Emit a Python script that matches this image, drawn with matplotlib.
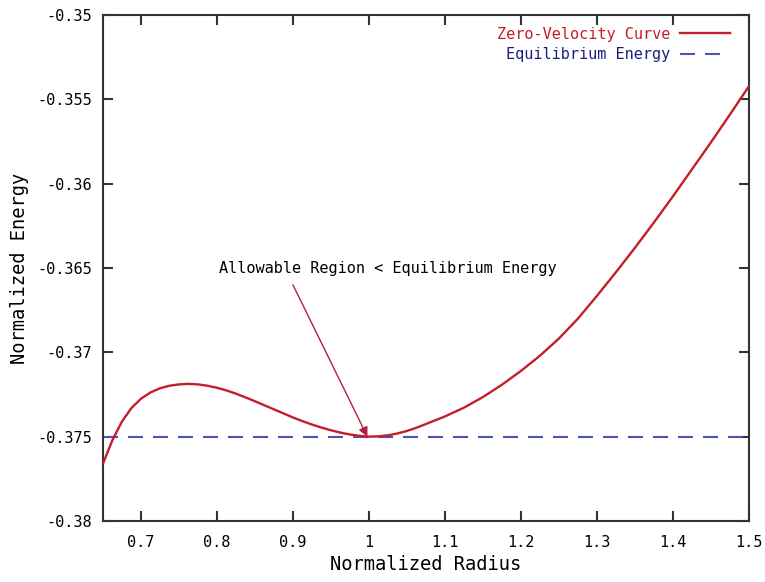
#!/usr/bin/env python3
"""Zero-velocity curve vs. equilibrium energy (gnuplot-style figure)."""

import matplotlib
matplotlib.use("Agg")
import matplotlib.pyplot as plt


# values
RADIUS = [0.650, 0.6625, 0.675, 0.6875, 0.700, 0.7125, 0.725, 0.7375,
          0.750, 0.7625, 0.775, 0.7875, 0.800, 0.8125, 0.825, 0.8375,
          0.850, 0.8625, 0.875, 0.8875, 0.900, 0.9125, 0.925, 0.9375,
          0.950, 0.9625, 0.975, 0.9875, 1.000, 1.0125, 1.025, 1.0375,
          1.050, 1.0625, 1.075, 1.100, 1.125, 1.150, 1.175, 1.200,
          1.225, 1.250, 1.275, 1.300, 1.325, 1.350, 1.375, 1.400,
          1.425, 1.450, 1.475, 1.500]
ENERGY = [-0.3766, -0.3752, -0.3741, -0.3733, -0.37275, -0.37238, -0.37213,
          -0.37198, -0.3719, -0.37187, -0.3719, -0.37198, -0.3721, -0.37226,
          -0.37245, -0.37267, -0.3729, -0.37314, -0.37338, -0.37362, -0.37386,
          -0.37408, -0.37428, -0.37446, -0.37462, -0.37476, -0.37487, -0.37495,
          -0.3750, -0.37498, -0.37492, -0.37481, -0.37466, -0.37447, -0.37425,
          -0.3738, -0.37328, -0.37265, -0.37192, -0.3711, -0.3702, -0.36918,
          -0.36800, -0.36665, -0.36525, -0.3638, -0.3623, -0.36075, -0.35915,
          -0.35755, -0.3559, -0.35422]
EQUILIBRIUM = -0.375

X_TICKS = [0.7, 0.8, 0.9, 1.0, 1.1, 1.2, 1.3, 1.4, 1.5]
X_LABELS = ["0.7", "0.8", "0.9", "1", "1.1", "1.2", "1.3", "1.4", "1.5"]
Y_TICKS = [-0.38, -0.375, -0.37, -0.365, -0.36, -0.355, -0.35]
Y_LABELS = ["-0.38", "-0.375", "-0.37", "-0.365", "-0.36", "-0.355", "-0.35"]

RED = "#c41e2a"
BLUE = "#4b56b4"
NAVY = "#1c1c80"


def main():
    plt.rcParams.update({
        "font.family": "DejaVu Sans Mono",
        "font.size": 11,
        "axes.linewidth": 1.5,
        "axes.edgecolor": "#333333",
    })

    fig = plt.figure(figsize=(7.65, 5.82), dpi=100)
    ax = fig.add_axes([0.1346, 0.1048, 0.979 - 0.1346, 0.9742 - 0.1048])

    ax.plot(RADIUS, ENERGY, color=RED, lw=1.7, label="Zero-Velocity Curve",
            zorder=3, solid_joinstyle="round")
    ax.axhline(EQUILIBRIUM, color=BLUE, lw=1.5, dashes=(7.2, 4.8),
               label="Equilibrium Energy", zorder=2)

    ax.set_xlim(0.65, 1.5)
    ax.set_ylim(-0.38, -0.35)
    ax.set_xticks(X_TICKS, X_LABELS)
    ax.set_yticks(Y_TICKS, Y_LABELS)
    ax.tick_params(direction="in", length=7, width=1.5, color="#333333",
                   top=True, right=True, labelsize=11)
    ax.tick_params(axis="x", pad=10)
    ax.tick_params(axis="y", pad=8)

    ax.set_xlabel("Normalized Radius", fontsize=13.5, labelpad=4)
    ax.set_ylabel("Normalized Energy", fontsize=13.5, labelpad=6)

    ax.text(1.025, -0.365, "Allowable Region < Equilibrium Energy",
            ha="center", va="center", fontsize=11)
    ax.annotate("", xy=(0.998, -0.375), xytext=(0.9, -0.3660),
                arrowprops=dict(arrowstyle="-|>", color="#b02040", lw=1.0,
                                mutation_scale=14, shrinkA=0, shrinkB=0),
                zorder=4)

    ax.legend(loc="upper right", bbox_to_anchor=(0.985, 0.995),
              frameon=False, markerfirst=False,
              handlelength=3.3, labelspacing=0.35, borderaxespad=0.2,
              handletextpad=0.6, labelcolor=[RED, NAVY], fontsize=11)

    fig.savefig("out.png", dpi=100)


if __name__ == "__main__":
    main()
